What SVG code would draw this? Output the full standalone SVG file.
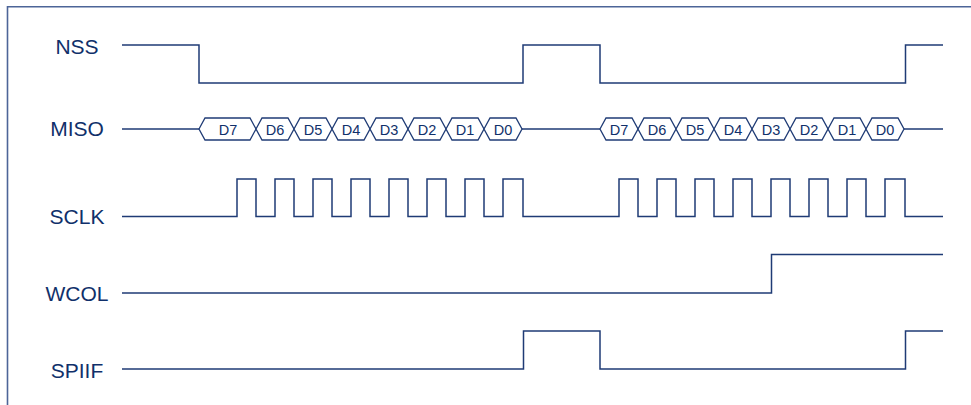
<svg xmlns="http://www.w3.org/2000/svg" width="971" height="405" viewBox="0 0 971 405">
<style>
.lbl{font-family:"Liberation Sans",Arial,sans-serif;font-size:21px;fill:#10306a;text-anchor:middle;}
.d{font-family:"Liberation Sans",Arial,sans-serif;font-size:14.5px;fill:#10306a;text-anchor:middle;}
.w{fill:none;stroke:#1f3b75;stroke-width:1.5;stroke-linejoin:miter;}
.hx{fill:#fff;stroke:#1f3b75;stroke-width:1.3;}
.frame{fill:none;stroke:#4d6598;stroke-width:1.6;}
</style>
<rect width="971" height="405" fill="#fff"/>
<path class="frame" d="M7.5,405 V6.7 H971"/>
<g id="NSS">
<text class="lbl" x="77" y="54">NSS</text>
</g>
<g id="MISO">
<text class="lbl" x="77" y="136">MISO</text>
</g>
<g id="SCLK">
<text class="lbl" x="77" y="224">SCLK</text>
</g>
<g id="WCOL">
<text class="lbl" x="77" y="301">WCOL</text>
</g>
<g id="SPIIF">
<text class="lbl" x="77" y="378">SPIIF</text>
</g>
<g id="connectors">
<path class="w" d="M122,45 H199 V83 H523 V45 H600 V83 H905.5 V45 H943"/>
<path class="w" d="M122,129 H199 M522,129 H600 M904,129 H943"/>
<path class="w" d="M122,216.5 H237 V179 H256 V216.5 H275 V179 H294 V216.5 H313 V179 H332 V216.5 H351 V179 H370 V216.5 H389 V179 H408 V216.5 H427 V179 H446 V216.5 H465 V179 H484 V216.5 H503 V179 H523 V216.5 H619 V179 H638 V216.5 H657 V179 H676 V216.5 H695 V179 H714 V216.5 H733 V179 H752 V216.5 H771 V179 H790 V216.5 H809 V179 H828 V216.5 H847 V179 H866 V216.5 H885 V179 H905 V216.5 H943"/>
<path class="w" d="M122,293 H771.5 V254.5 H943"/>
<path class="w" d="M122,369 H523.5 V331 H600 V369 H905.5 V331 H943"/>
</g>
<g id="MISO-data">
<polygon class="hx" points="199,129 205,118 250,118 256,129 250,140 205,140"/>
<polygon class="hx" points="256,129 262,118 288,118 294,129 288,140 262,140"/>
<polygon class="hx" points="294,129 300,118 326,118 332,129 326,140 300,140"/>
<polygon class="hx" points="332,129 338,118 364,118 370,129 364,140 338,140"/>
<polygon class="hx" points="370,129 376,118 402,118 408,129 402,140 376,140"/>
<polygon class="hx" points="408,129 414,118 440,118 446,129 440,140 414,140"/>
<polygon class="hx" points="446,129 452,118 478,118 484,129 478,140 452,140"/>
<polygon class="hx" points="484,129 490,118 516,118 522,129 516,140 490,140"/>
<text class="d" x="228" y="135">D7</text>
<text class="d" x="275" y="135">D6</text>
<text class="d" x="313" y="135">D5</text>
<text class="d" x="351" y="135">D4</text>
<text class="d" x="389" y="135">D3</text>
<text class="d" x="427" y="135">D2</text>
<text class="d" x="465" y="135">D1</text>
<text class="d" x="503" y="135">D0</text>
<polygon class="hx" points="600,129 606,118 632,118 638,129 632,140 606,140"/>
<polygon class="hx" points="638,129 644,118 670,118 676,129 670,140 644,140"/>
<polygon class="hx" points="676,129 682,118 708,118 714,129 708,140 682,140"/>
<polygon class="hx" points="714,129 720,118 746,118 752,129 746,140 720,140"/>
<polygon class="hx" points="752,129 758,118 784,118 790,129 784,140 758,140"/>
<polygon class="hx" points="790,129 796,118 822,118 828,129 822,140 796,140"/>
<polygon class="hx" points="828,129 834,118 860,118 866,129 860,140 834,140"/>
<polygon class="hx" points="866,129 872,118 898,118 904,129 898,140 872,140"/>
<text class="d" x="619" y="135">D7</text>
<text class="d" x="657" y="135">D6</text>
<text class="d" x="695" y="135">D5</text>
<text class="d" x="733" y="135">D4</text>
<text class="d" x="771" y="135">D3</text>
<text class="d" x="809" y="135">D2</text>
<text class="d" x="847" y="135">D1</text>
<text class="d" x="885" y="135">D0</text>
</g>
</svg>
